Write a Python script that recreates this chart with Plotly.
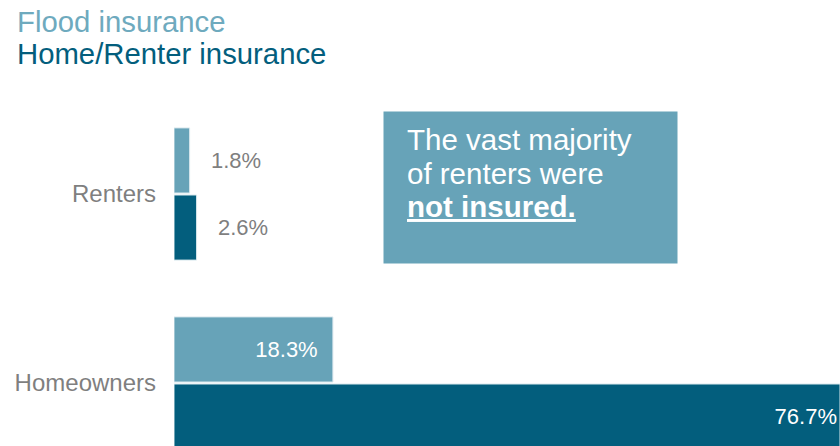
import plotly.graph_objects as go

categories = ["Homeowners", "Renters"]
flood_values = [18.3, 1.8]
home_values = [76.7, 2.6]
series_names = ["Flood insurance", "Home/Renter insurance"]
callout_lines = ["The vast majority", "of renters were", "<b><u>not insured.</u></b>"]

LIGHT = "#67a3b8"
DARK = "#035e7d"
GRAY = "#7f7f7f"
FONT = "Liberation Sans, Arial, sans-serif"
NB = "\u00a0"

W, H = 840, 446
ML, MT = 174, 100
PW, PH = W - ML, H - MT


def labels(vals, limit):
    out = []
    for v in vals:
        if v < limit:
            out.append(NB * 3 + f"{v:.1f}%")
        elif v < 50:
            out.append(f"{v:.1f}%" + NB * 2)
        else:
            out.append(f"{v:.1f}%")
    return out


def positions(vals, limit):
    return ["outside" if v < limit else "inside" for v in vals]


fig = go.Figure()
fig.add_trace(go.Bar(
    y=categories, x=home_values, orientation="h", name=series_names[1],
    marker=dict(color=DARK, line=dict(color="#dbe9ee", width=1)),
    text=labels(home_values, 10), textposition=positions(home_values, 10),
    insidetextanchor="end",
    insidetextfont=dict(color="white", size=22, family=FONT),
    outsidetextfont=dict(color=GRAY, size=22, family=FONT),
))
fig.add_trace(go.Bar(
    y=categories, x=flood_values, orientation="h", name=series_names[0],
    marker=dict(color=LIGHT, line=dict(color="#dbe9ee", width=1)),
    text=labels(flood_values, 10), textposition=positions(flood_values, 10),
    insidetextanchor="end",
    insidetextfont=dict(color="white", size=22, family=FONT),
    outsidetextfont=dict(color=GRAY, size=22, family=FONT),
))


def py(p):
    return 1 - (p - MT) / PH


def px(p):
    return (p - ML) / PW


fig.add_shape(type="rect", xref="paper", yref="paper",
              x0=px(383.5), x1=px(677.5), y0=py(263.5), y1=py(111.5),
              fillcolor=LIGHT, line=dict(width=0), layer="above")

for line, cy in zip(callout_lines, [140, 173.5, 206]):
    fig.add_annotation(text=line, xref="paper", yref="paper", x=px(405), y=py(cy),
                       xanchor="left", yanchor="middle", showarrow=False,
                       font=dict(color="white", size=29.5, family=FONT))

for name, col, cy in zip(series_names, ["#6eaabe", DARK], [22, 54]):
    fig.add_annotation(text=name, xref="paper", yref="paper", x=px(15), y=py(cy),
                       xanchor="left", yanchor="middle", showarrow=False,
                       font=dict(color=col, size=29.3, family=FONT))

fig.update_layout(
    width=W, height=H,
    margin=dict(l=ML, r=0, t=MT, b=0, pad=0),
    paper_bgcolor="white", plot_bgcolor="white",
    barmode="group", bargap=0.29, bargroupgap=0.03,
    showlegend=False,
    font=dict(family=FONT, color=GRAY),
    xaxis=dict(range=[0, 76.7], visible=False, fixedrange=True),
    yaxis=dict(type="category", categoryarray=categories, range=[-0.3333, 1.4974],
               showgrid=False, zeroline=False, showline=False, ticks="",
               ticklabelstandoff=17,
               tickfont=dict(size=24, color=GRAY, family=FONT)),
)

fig.write_html("out.html")
